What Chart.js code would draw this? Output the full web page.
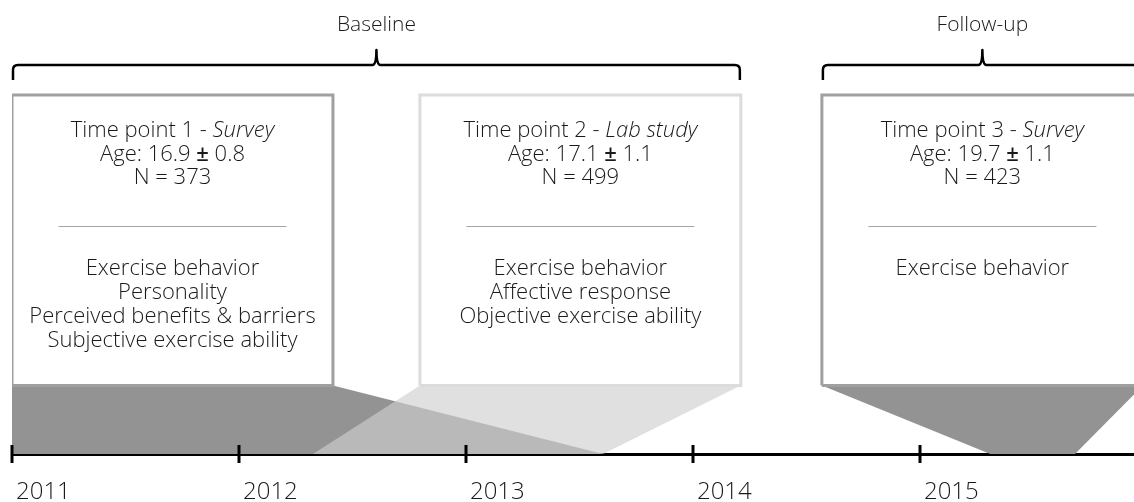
<!DOCTYPE html>
<html>
<head>
<meta charset="utf-8">
<script src="https://cdn.jsdelivr.net/npm/chart.js@4.4.0/dist/chart.umd.min.js"></script>
<style>
html, body { margin: 0; padding: 0; background: #fff; }
#wrap { width: 1134px; height: 502px; }
</style>
</head>
<body>
<div id="wrap"><canvas id="timeline"></canvas></div>
<script>
// years on the time axis
var years = [2011, 2012, 2013, 2014, 2015];
var axisEnd = 2015.943;

// study phases and which time points they cover
var phaseNames = ['Baseline', 'Follow-up'];
var phaseFirst = [0, 2];
var phaseLast = [1, 2];

// time points
var pointNames = ['Time point 1', 'Time point 2', 'Time point 3'];
var designs = ['Survey', 'Lab study', 'Survey'];
var ageMean = ['16.9', '17.1', '19.7'];
var ageSd = ['0.8', '1.1', '1.1'];
var sampleN = [373, 499, 423];
var measures = [
  ['Exercise behavior', 'Personality', 'Perceived benefits & barriers', 'Subjective exercise ability'],
  ['Exercise behavior', 'Affective response', 'Objective exercise ability'],
  ['Exercise behavior']
];

// box span and data collection period (in years)
var boxStart = [2011.0, 2012.797, 2014.568];
var boxEnd = [2012.414, 2014.211, 2015.982];
var periodStart = [2011.0, 2012.326, 2015.31];
var periodEnd = [2013.604, 2013.604, 2015.683];

// styles / layout
var shapeColors = ['#939393', 'rgba(207,207,207,0.64)', '#939393'];
var boxColors = ['#a0a0a0', '#dcdcdc', '#a0a0a0'];
var shapeOrder = [3, 2, 3];
var boxTop = 359;
var boxBottom = 68.5;
var FONT = '"Open Sans", sans-serif';
var BODY = '300 22px ' + FONT;
var TEXT = '#1a1a1a';

var datasets = [];
for (var i = 0; i < pointNames.length; i++) {
  datasets.push({
    label: pointNames[i] + ' period',
    data: [
      {x: periodStart[i], y: 0},
      {x: boxStart[i], y: boxBottom},
      {x: boxEnd[i], y: boxBottom},
      {x: periodEnd[i], y: 0}
    ],
    showLine: true,
    fill: 'shape',
    backgroundColor: shapeColors[i],
    borderColor: 'rgba(0,0,0,0)',
    borderWidth: 0,
    pointRadius: 0,
    order: shapeOrder[i]
  });
}
for (var j = 0; j < pointNames.length; j++) {
  datasets.push({
    label: pointNames[j],
    data: [
      {x: boxStart[j], y: boxBottom},
      {x: boxStart[j], y: boxTop},
      {x: boxEnd[j], y: boxTop},
      {x: boxEnd[j], y: boxBottom},
      {x: boxStart[j], y: boxBottom}
    ],
    showLine: true,
    fill: false,
    borderColor: boxColors[j],
    borderWidth: 3,
    borderJoinStyle: 'miter',
    pointRadius: 0,
    order: 1
  });
}

// draw a centred line made of runs in different fonts
function runs(ctx, parts, cx, y) {
  var total = 0, widths = [];
  parts.forEach(function (p) {
    ctx.font = p[1];
    var w = ctx.measureText(p[0]).width;
    widths.push(w);
    total += w;
  });
  var x = cx - total / 2;
  ctx.textAlign = 'left';
  parts.forEach(function (p, n) {
    ctx.font = p[1];
    ctx.fillText(p[0], x, y);
    x += widths[n];
  });
}

var timelineDecor = {
  id: 'timelineDecor',
  afterDraw: function (chart) {
    var ctx = chart.ctx;
    var xs = chart.scales.x, ys = chart.scales.y;
    var axisY = ys.getPixelForValue(0);
    ctx.save();

    // tick marks crossing the axis
    ctx.strokeStyle = '#000';
    ctx.lineWidth = 3;
    xs.ticks.forEach(function (t) {
      var px = Math.round(xs.getPixelForValue(t.value));
      ctx.beginPath();
      ctx.moveTo(px, axisY - 9);
      ctx.lineTo(px, axisY + 9);
      ctx.stroke();
    });

    // braces with phase names
    var by = 65;
    ctx.lineWidth = 2.5;
    ctx.lineJoin = 'round';
    for (var p = 0; p < phaseNames.length; p++) {
      var x1 = xs.getPixelForValue(boxStart[phaseFirst[p]]) + 1;
      var x2 = xs.getPixelForValue(boxEnd[phaseLast[p]]) - 1;
      var mid = (x1 + x2) / 2;
      ctx.beginPath();
      ctx.moveTo(x1, by + 15);
      ctx.lineTo(x1, by + 5);
      ctx.quadraticCurveTo(x1, by, x1 + 5, by);
      ctx.lineTo(mid - 4, by);
      ctx.quadraticCurveTo(mid, by, mid, by - 15);
      ctx.quadraticCurveTo(mid, by, mid + 4, by);
      ctx.lineTo(x2 - 5, by);
      ctx.quadraticCurveTo(x2, by, x2, by + 5);
      ctx.lineTo(x2, by + 15);
      ctx.stroke();
      ctx.fillStyle = TEXT;
      ctx.font = '300 21px ' + FONT;
      ctx.textAlign = 'center';
      ctx.textBaseline = 'middle';
      ctx.fillText(phaseNames[p], mid, 25);
    }

    // box contents
    var top = ys.getPixelForValue(boxTop);
    ctx.textBaseline = 'middle';
    for (var k = 0; k < pointNames.length; k++) {
      var cx = (xs.getPixelForValue(boxStart[k]) + xs.getPixelForValue(boxEnd[k])) / 2;
      ctx.fillStyle = TEXT;
      runs(ctx, [[pointNames[k] + ' - ', BODY], [designs[k], 'italic ' + BODY]], cx, top + 36);
      runs(ctx, [['Age: ' + ageMean[k] + ' ', BODY], ['\u00b1', '600 22px ' + FONT], [' ' + ageSd[k], BODY]], cx, top + 60);
      ctx.font = BODY;
      ctx.textAlign = 'center';
      ctx.fillText('N = ' + sampleN[k], cx, top + 83);
      ctx.strokeStyle = '#a6a6a6';
      ctx.lineWidth = 1;
      ctx.beginPath();
      ctx.moveTo(cx - 114, top + 131.5);
      ctx.lineTo(cx + 114, top + 131.5);
      ctx.stroke();
      for (var m = 0; m < measures[k].length; m++) {
        ctx.fillText(measures[k][m], cx, top + 174 + m * 24);
      }
    }
    ctx.restore();
  }
};

new Chart(document.getElementById('timeline'), {
  type: 'scatter',
  data: { datasets: datasets },
  options: {
    responsive: true,
    maintainAspectRatio: false,
    animation: false,
    layout: { padding: { left: 12, right: 0, top: 0, bottom: 0 } },
    plugins: {
      legend: { display: false },
      tooltip: { enabled: false }
    },
    scales: {
      x: {
        type: 'linear',
        min: 2011,
        max: axisEnd,
        z: 1,
        afterBuildTicks: function (s) {
          s.ticks = years.map(function (v) { return {value: v}; });
        },
        afterFit: function (s) {
          s.height = 48;
          s.paddingLeft = 0;
          s.paddingRight = 0;
        },
        grid: { display: false, drawTicks: false },
        border: { display: true, color: '#000', width: 3 },
        ticks: {
          align: 'start',
          labelOffset: 4,
          padding: 24,
          color: TEXT,
          font: { family: 'Open Sans', size: 24, weight: '300' },
          callback: function (v) { return String(v); }
        }
      },
      y: { type: 'linear', min: 0, max: 454, display: false }
    }
  },
  plugins: [timelineDecor]
});
</script>
</body>
</html>
